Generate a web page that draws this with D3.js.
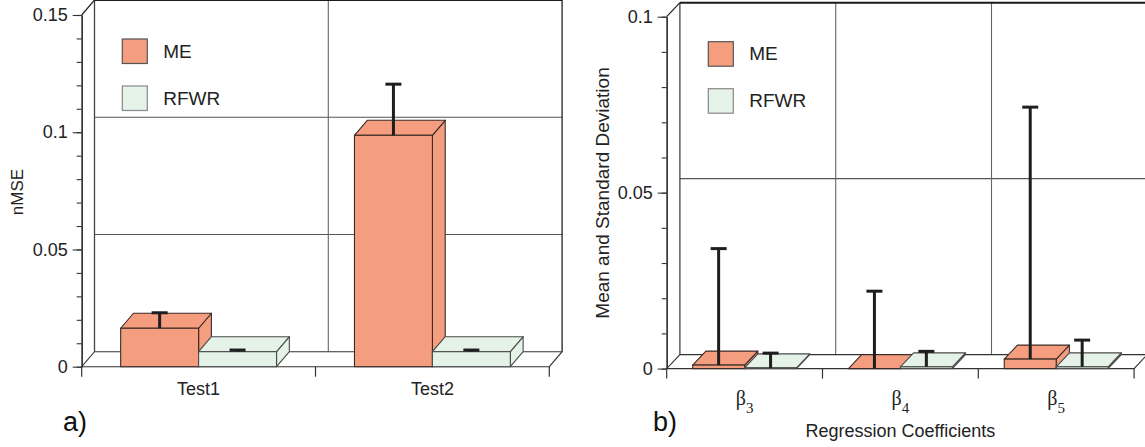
<!DOCTYPE html>
<html>
<head>
<meta charset="utf-8">
<script src="https://cdn.jsdelivr.net/npm/d3@7"></script>
<style>
  body { margin: 0; background: #fff; }
  svg { display: block; font-family: "Liberation Sans", Arial, sans-serif; }
</style>
</head>
<body>
<svg id="chart" width="1145" height="447"></svg>
<script>
// a) nMSE of the two tests
var testCats = ["Test1", "Test2"];
var meNmse = [0.0164, 0.0987];
var meNmseSd = [0.0066, 0.0218];
var rfwrNmse = [0.0064, 0.0064];
var rfwrNmseSd = [0.0007, 0.0007];
var nmseTicks = [0, 0.05, 0.1, 0.15];
var nmseTickLabels = ["0", "0.05", "0.1", "0.15"];

// b) regression coefficients beta_3..beta_5
var coefCats = ["3", "4", "5"];   // subscripts of beta
var meCoef = [0.001, 0.0, 0.0027];
var meCoefSd = [0.0331, 0.022, 0.0716];
var rfwrCoef = [0.0002, 0.0005, 0.0005];
var rfwrCoefSd = [0.0042, 0.0044, 0.0076];
var coefTicks = [0, 0.05, 0.1];
var coefTickLabels = ["0", "0.05", "0.1"];

var seriesNames = ["ME", "RFWR"];
var seriesFill = { ME: "#f59e7f", RFWR: "#e4f2e7" };
var seriesStroke = { ME: "#3b2b26", RFWR: "#4a4a4a" };

var svg = d3.select("#chart");

function drawPanel(p) {
  var g = svg.append("g");
  var x = d3.scaleBand().domain(p.cats).range([p.x0, p.x1]);
  var xs = d3.scaleBand().domain(seriesNames).range([0, x.bandwidth()]).paddingOuter(0.5);
  var y = d3.scaleLinear().domain([0, p.max]).range([p.y0, p.yTop]);
  var dx = p.dx, dy = p.dy;
  var bx0 = p.x0 + dx, bx1 = p.x1 + dx;
  var yMax = y(p.max);

  // back wall
  g.append("rect")
    .attr("x", bx0).attr("y", yMax + dy)
    .attr("width", bx1 - bx0).attr("height", p.y0 - yMax)
    .attr("fill", "#fff");
  g.selectAll(".hgrid").data(p.ticks.slice(1, -1)).enter().append("line")
    .attr("x1", bx0).attr("x2", bx1)
    .attr("y1", function(d) { return y(d) + dy; })
    .attr("y2", function(d) { return y(d) + dy; })
    .attr("stroke", "#555").attr("stroke-width", 1.1);
  g.selectAll(".vgrid").data(p.cats.slice(1)).enter().append("line")
    .attr("x1", function(d) { return x(d) + dx; })
    .attr("x2", function(d) { return x(d) + dx; })
    .attr("y1", yMax + dy).attr("y2", p.y0 + dy)
    .attr("stroke", "#666").attr("stroke-width", 1.1);
  g.append("line").attr("x1", bx0).attr("x2", bx0).attr("y1", yMax + dy).attr("y2", p.y0 + dy)
    .attr("stroke", "#444").attr("stroke-width", 1.3);
  g.append("line").attr("x1", bx1).attr("x2", bx1).attr("y1", yMax + dy).attr("y2", p.y0 + dy)
    .attr("stroke", "#222").attr("stroke-width", 1.3);
  g.append("line").attr("x1", bx0).attr("x2", bx1).attr("y1", yMax + dy).attr("y2", yMax + dy)
    .attr("stroke", "#1a1a1a").attr("stroke-width", 2);
  g.append("line").attr("x1", p.x0).attr("x2", bx0).attr("y1", yMax).attr("y2", yMax + dy)
    .attr("stroke", "#222").attr("stroke-width", 1.2);

  // floor
  g.append("polygon")
    .attr("points", [[p.x0, p.y0], [p.x1, p.y0], [bx1, p.y0 + dy], [bx0, p.y0 + dy]].join(" "))
    .attr("fill", "#fff").attr("stroke", "#333").attr("stroke-width", 1.1);

  // front value axis
  var minor = g.append("g").attr("transform", "translate(" + p.x0 + ",0)")
    .call(d3.axisLeft(y).tickValues(y.ticks(p.minorCount)).tickSize(5).tickSizeOuter(0).tickFormat(""));
  var major = g.append("g").attr("transform", "translate(" + p.x0 + ",0)")
    .call(d3.axisLeft(y).tickValues(p.ticks).tickSize(9).tickSizeOuter(0).tickPadding(5)
      .tickFormat(function(d, i) { return p.tickLabels[i]; }));
  g.selectAll(".domain").attr("stroke", "#333").attr("stroke-width", 1.3);
  g.selectAll(".tick line").attr("stroke", "#333").attr("stroke-width", 1.1);
  major.selectAll("text").attr("font-size", 18).attr("fill", "#222")
    .attr("font-family", "Liberation Sans, Arial, sans-serif");

  // category boundary ticks below the floor
  var bounds = p.cats.map(function(c) { return x(c); }).concat([p.x1]);
  g.selectAll(".ctick").data(bounds).enter().append("line")
    .attr("x1", function(d) { return d; }).attr("x2", function(d) { return d; })
    .attr("y1", p.y0).attr("y2", p.y0 + 10)
    .attr("stroke", "#333").attr("stroke-width", 1.2);

  // 3D bars
  var errs = [];
  p.cats.forEach(function(c, i) {
    p.series.forEach(function(s) {
      var v = s.vals[i], left = x(c) + xs(s.name), w = xs.bandwidth(), top = y(v);
      var fill = seriesFill[s.name], stroke = seriesStroke[s.name];
      g.append("polygon")
        .attr("points", [[left + w, top], [left + w + dx, top + dy], [left + w + dx, p.y0 + dy], [left + w, p.y0]].join(" "))
        .attr("fill", fill).attr("stroke", stroke).attr("stroke-width", 1.1).attr("stroke-linejoin", "round");
      g.append("polygon")
        .attr("points", [[left, top], [left + w, top], [left + w + dx, top + dy], [left + dx, top + dy]].join(" "))
        .attr("fill", fill).attr("stroke", stroke).attr("stroke-width", 1.1).attr("stroke-linejoin", "round");
      g.append("rect")
        .attr("x", left).attr("y", top).attr("width", w).attr("height", p.y0 - top)
        .attr("fill", fill).attr("stroke", stroke).attr("stroke-width", 1.1);
      errs.push({ cx: left + w / 2, v: v, sd: s.sd[i] });
    });
  });

  // error bars (mean to mean + sd)
  var eg = g.append("g").attr("stroke", "#1e1e1e").attr("stroke-width", 3);
  eg.selectAll(".ebar").data(errs).enter().append("line")
    .attr("x1", function(d) { return d.cx; }).attr("x2", function(d) { return d.cx; })
    .attr("y1", function(d) { return y(d.v); }).attr("y2", function(d) { return y(d.v + d.sd); });
  eg.selectAll(".ecap").data(errs).enter().append("line")
    .attr("x1", function(d) { return d.cx - 8; }).attr("x2", function(d) { return d.cx + 8; })
    .attr("y1", function(d) { return y(d.v + d.sd); }).attr("y2", function(d) { return y(d.v + d.sd); });

  // category labels
  var lab = g.selectAll(".clab").data(p.cats).enter().append("text")
    .attr("x", function(d) { return x(d) + x.bandwidth() / 2; })
    .attr("y", p.y0 + p.labelDy)
    .attr("text-anchor", "middle").attr("fill", "#222");
  p.label(lab);

  // legend
  seriesNames.forEach(function(n, i) {
    g.append("rect")
      .attr("x", p.legX).attr("y", p.legY + i * 47)
      .attr("width", 25).attr("height", 24.5)
      .attr("fill", seriesFill[n]).attr("stroke", i === 0 ? "#555" : "#888").attr("stroke-width", 1.2);
    g.append("text")
      .attr("x", p.legX + 41).attr("y", p.legY + 18.5 + i * 47)
      .attr("font-size", 19).attr("fill", "#222").text(n);
  });

  return g;
}

var ga = drawPanel({
  x0: 81.7, x1: 549.3, y0: 366.7, yTop: 15, max: 0.15, dx: 12.8, dy: -15,
  cats: testCats, minorCount: 15,
  series: [{ name: "ME", vals: meNmse, sd: meNmseSd }, { name: "RFWR", vals: rfwrNmse, sd: rfwrNmseSd }],
  ticks: nmseTicks, tickLabels: nmseTickLabels,
  labelDy: 28,
  label: function(sel) { sel.attr("font-size", 18).text(function(d) { return d; }); },
  legX: 122.3, legY: 39
});

var gb = drawPanel({
  x0: 666.7, x1: 1134.1, y0: 368.6, yTop: 16.7, max: 0.1, dx: 13.2, dy: -14,
  cats: coefCats, minorCount: 10,
  series: [{ name: "ME", vals: meCoef, sd: meCoefSd }, { name: "RFWR", vals: rfwrCoef, sd: rfwrCoefSd }],
  ticks: coefTicks, tickLabels: coefTickLabels,
  labelDy: 36.5,
  label: function(sel) {
    sel.attr("font-family", "Liberation Serif, Times New Roman, serif").attr("font-size", 20);
    sel.append("tspan").text("\u03b2");
    sel.append("tspan").attr("dy", 8).attr("font-size", 15).text(function(d) { return d; });
  },
  legX: 708.3, legY: 41.7
});

// axis titles and panel tags
svg.append("text").attr("transform", "translate(23,192) rotate(-90)")
  .attr("text-anchor", "middle").attr("font-size", 17).attr("fill", "#222").text("nMSE");
svg.append("text").attr("transform", "translate(609,193) rotate(-90)")
  .attr("text-anchor", "middle").attr("font-size", 19).attr("fill", "#222").text("Mean and Standard Deviation");
svg.append("text").attr("x", 900.4).attr("y", 437)
  .attr("text-anchor", "middle").attr("font-size", 18).attr("fill", "#222").text("Regression Coefficients");
svg.append("text").attr("x", 63).attr("y", 431)
  .attr("font-size", 27).attr("fill", "#111").text("a)");
svg.append("text").attr("x", 653).attr("y", 431)
  .attr("font-size", 27).attr("fill", "#111").text("b)");
</script>
</body>
</html>
